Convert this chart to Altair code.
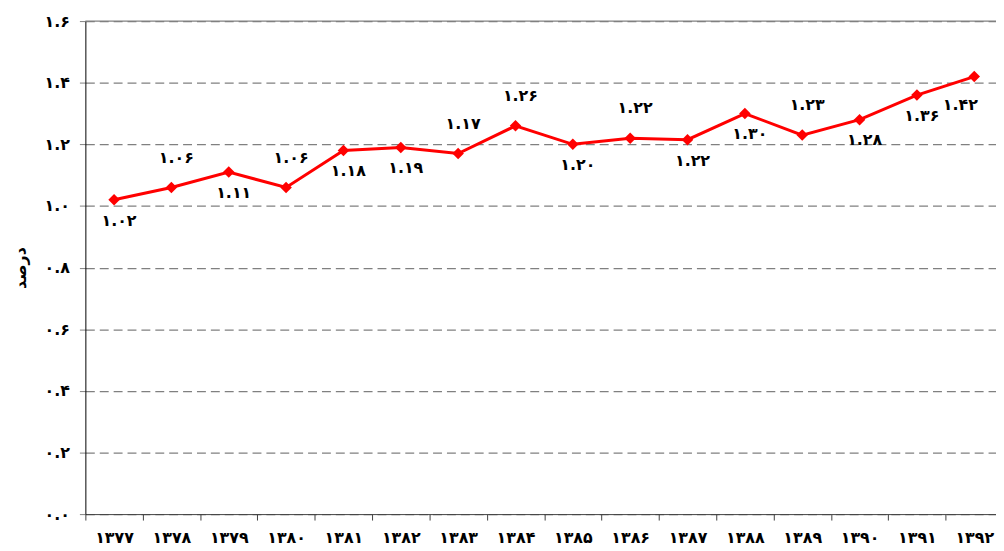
import altair as alt
import pandas as pd

# ---- data ----
years = [1377, 1378, 1379, 1380, 1381, 1382, 1383, 1384,
         1385, 1386, 1387, 1388, 1389, 1390, 1391, 1392]
values = [1.02, 1.06, 1.11, 1.06, 1.18, 1.19, 1.17, 1.26,
          1.20, 1.22, 1.215, 1.30, 1.23, 1.28, 1.36, 1.42]
value_labels = ["1.02", "1.06", "1.11", "1.06", "1.18", "1.19", "1.17", "1.26",
                "1.20", "1.22", "1.22", "1.30", "1.23", "1.28", "1.36", "1.42"]
placement = ["below", "above", "below", "above", "below", "below", "above", "above",
             "below", "above", "below", "below", "above", "below", "below", "left"]
y_ticks = [0.0, 0.2, 0.4, 0.6, 0.8, 1.0, 1.2, 1.4, 1.6]
y_title = "درصد"

FA = str.maketrans("0123456789", "۰۱۲۳۴۵۶۷۸۹")


def fa(s):
    return str(s).translate(FA)


year_fa = [fa(y) for y in years]
df = pd.DataFrame({
    "year": year_fa,
    "value": values,
    "label": [fa(s) for s in value_labels],
    "place": placement,
})

# y-axis label expression built from tick list
expr = "''"
for t in reversed(y_ticks):
    expr = f"format(datum.value, '.1f') == '{t:.1f}' ? '{fa(f'{t:.1f}')}' : " + expr

FONT = "DejaVu Sans"
FS = 16

x_enc = alt.X(
    "year:N", sort=year_fa, title=None,
    scale=alt.Scale(type="band", paddingInner=0, paddingOuter=0, range=[0, 925]),
    axis=alt.Axis(tickBand="extent", labelAngle=0, grid=False, domainColor="#404040",
                  tickColor="#404040", tickSize=6, labelPadding=10,
                  labelFont=FONT, labelFontSize=FS, labelFontWeight="bold",
                  labelColor="#000000"),
)
y_enc = alt.Y(
    "value:Q", title=y_title,
    scale=alt.Scale(domain=[0, 1.6], nice=False),
    axis=alt.Axis(values=y_ticks, labelExpr=expr, grid=True, gridColor="#808080",
                  gridDash=[9, 5], gridWidth=1.2, domainColor="#000000",
                  tickColor="#808080", tickSize=6, labelPadding=10,
                  labelFont=FONT, labelFontSize=FS, labelFontWeight="bold",
                  labelColor="#000000", titleFont=FONT, titleFontSize=16,
                  titleFontWeight="bold", titleColor="#000000", titlePadding=16),
)

base = alt.Chart(df)

top_rule = alt.Chart(pd.DataFrame({"v": [y_ticks[-1]]})).mark_rule(
    color="#808080", strokeWidth=1.2).encode(y="v:Q")

line = base.mark_line(color="#FF0000", strokeWidth=3).encode(x=x_enc, y=y_enc)
pts = base.mark_point(shape="diamond", filled=True, color="#FF0000", size=135,
                      opacity=1).encode(x="year:N", y="value:Q")

txt_style = dict(font=FONT, fontSize=FS, fontWeight="bold", color="#000000",
                 baseline="middle", align="center")
above = base.transform_filter("datum.place == 'above'").mark_text(
    dy=-30, dx=5, **txt_style).encode(x="year:N", y="value:Q", text="label:N")
below = base.transform_filter("datum.place == 'below'").mark_text(
    dy=21, dx=5, **txt_style).encode(x="year:N", y="value:Q", text="label:N")
left = base.transform_filter("datum.place == 'left'").mark_text(
    dy=29, dx=-14, **txt_style).encode(x="year:N", y="value:Q", text="label:N")

chart = alt.layer(top_rule, line, pts, above, below, left).properties(
    width=918, height=497,
    autosize=alt.AutoSizeParams(type="none"),
    padding={"left": 78, "top": 11, "right": 0, "bottom": 35},
    background="#FFFFFF",
).configure_view(stroke=None)

chart.save("out.html", embed_options={"renderer": "svg", "actions": False})
